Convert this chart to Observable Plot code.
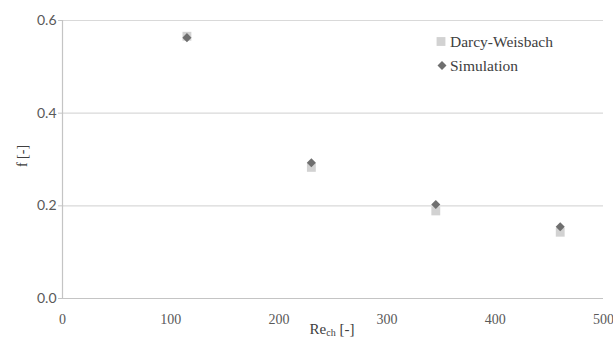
<!DOCTYPE html>
<html>
<head>
<meta charset="utf-8">
<script src="https://cdn.jsdelivr.net/npm/d3@7"></script>
<script src="https://cdn.jsdelivr.net/npm/@observablehq/plot@0.6"></script>
<style>
  html, body { margin: 0; padding: 0; background: #fff; }
  #chart { position: relative; width: 613px; height: 339px; }
  .serif-text { font-family: "Liberation Serif", "Times New Roman", serif !important; }
</style>
</head>
<body>
<div id="chart"></div>
<script>
const reynolds = [115, 230, 345, 460];
const darcyWeisbach = [0.566, 0.283, 0.189, 0.143];
const simulation = [0.563, 0.293, 0.203, 0.155];
const xTicks = [0, 100, 200, 300, 400, 500];
const yTicks = [0, 0.2, 0.4, 0.6];
const seriesNames = ["Darcy-Weisbach", "Simulation"];

const dwData = reynolds.map((re, i) => ({re, f: darcyWeisbach[i]}));
const simData = reynolds.map((re, i) => ({re, f: simulation[i]}));

const serif = "Liberation Serif, Times New Roman, serif";
const sans = "Lato, Liberation Sans, sans-serif";

const chart = Plot.plot({
  width: 613,
  height: 339,
  marginLeft: 62,
  marginRight: 10,
  marginTop: 20,
  marginBottom: 41,
  style: {background: "#fff", overflow: "visible"},
  x: {domain: [0, 500]},
  y: {domain: [0, 0.6]},
  marks: [
    Plot.gridY(yTicks.filter(d => d > 0), {stroke: "#d9d9d9", strokeOpacity: 1, strokeWidth: 1.2}),
    Plot.ruleY([0], {stroke: "#c4c4c4", strokeWidth: 1.2}),
    Plot.ruleX([0], {stroke: "#c4c4c4", strokeWidth: 1.2}),
    Plot.axisY({ticks: yTicks, tickFormat: d3.format(".1f"), tickSize: 4, tickPadding: 2, stroke: "#c4c4c4",
      fontFamily: sans, fontSize: 14, fill: "#595959", label: null}),
    Plot.axisX({ticks: xTicks, tickFormat: d => String(d), tickSize: 0, tickPadding: 16,
      fontFamily: serif, fontSize: 14, fill: "#595959", label: null}),
    Plot.dot(dwData, {x: "re", y: "f", symbol: "square", r: 5, fill: "#d2d2d2", stroke: null}),
    Plot.dot(simData, {x: "re", y: "f", symbol: "diamond2", r: 4.1, fill: "#6f6f6f", stroke: null})
  ]
});
document.getElementById("chart").appendChild(chart);

const svg = d3.select(chart);
// axis titles
const xt = svg.append("text").attr("class", "serif-text")
  .attr("x", 332).attr("y", 334)
  .attr("text-anchor", "middle")
  .style("font-size", "15px").attr("fill", "#404040");
xt.append("tspan").text("Re");
xt.append("tspan").style("font-size", "10px").attr("dy", 2).text("ch");
xt.append("tspan").attr("dy", -2).text(" [-]");

svg.append("text").attr("class", "serif-text")
  .attr("transform", "translate(27,156) rotate(-90)")
  .attr("text-anchor", "middle")
  .style("font-size", "14px").attr("fill", "#404040")
  .text("f [-]");

// legend
const lg = svg.append("g").attr("text-anchor", "start");
const sq = d3.symbol(d3.symbolSquare, 78)();
const dm = d3.symbol(d3.symbolDiamond2, 52)();
lg.append("path").attr("d", sq).attr("transform", "translate(441,41.5)").attr("fill", "#d2d2d2");
lg.append("text").attr("class", "serif-text").attr("x", 450).attr("y", 47).attr("text-anchor", "start")
  .style("font-size", "15.5px")
  .attr("fill", "#404040").text(seriesNames[0]);
lg.append("path").attr("d", dm).attr("transform", "translate(442,65.5)").attr("fill", "#6f6f6f");
lg.append("text").attr("class", "serif-text").attr("x", 450).attr("y", 70.5).attr("text-anchor", "start")
  .style("font-size", "15.5px")
  .attr("fill", "#404040").text(seriesNames[1]);
</script>
</body>
</html>
